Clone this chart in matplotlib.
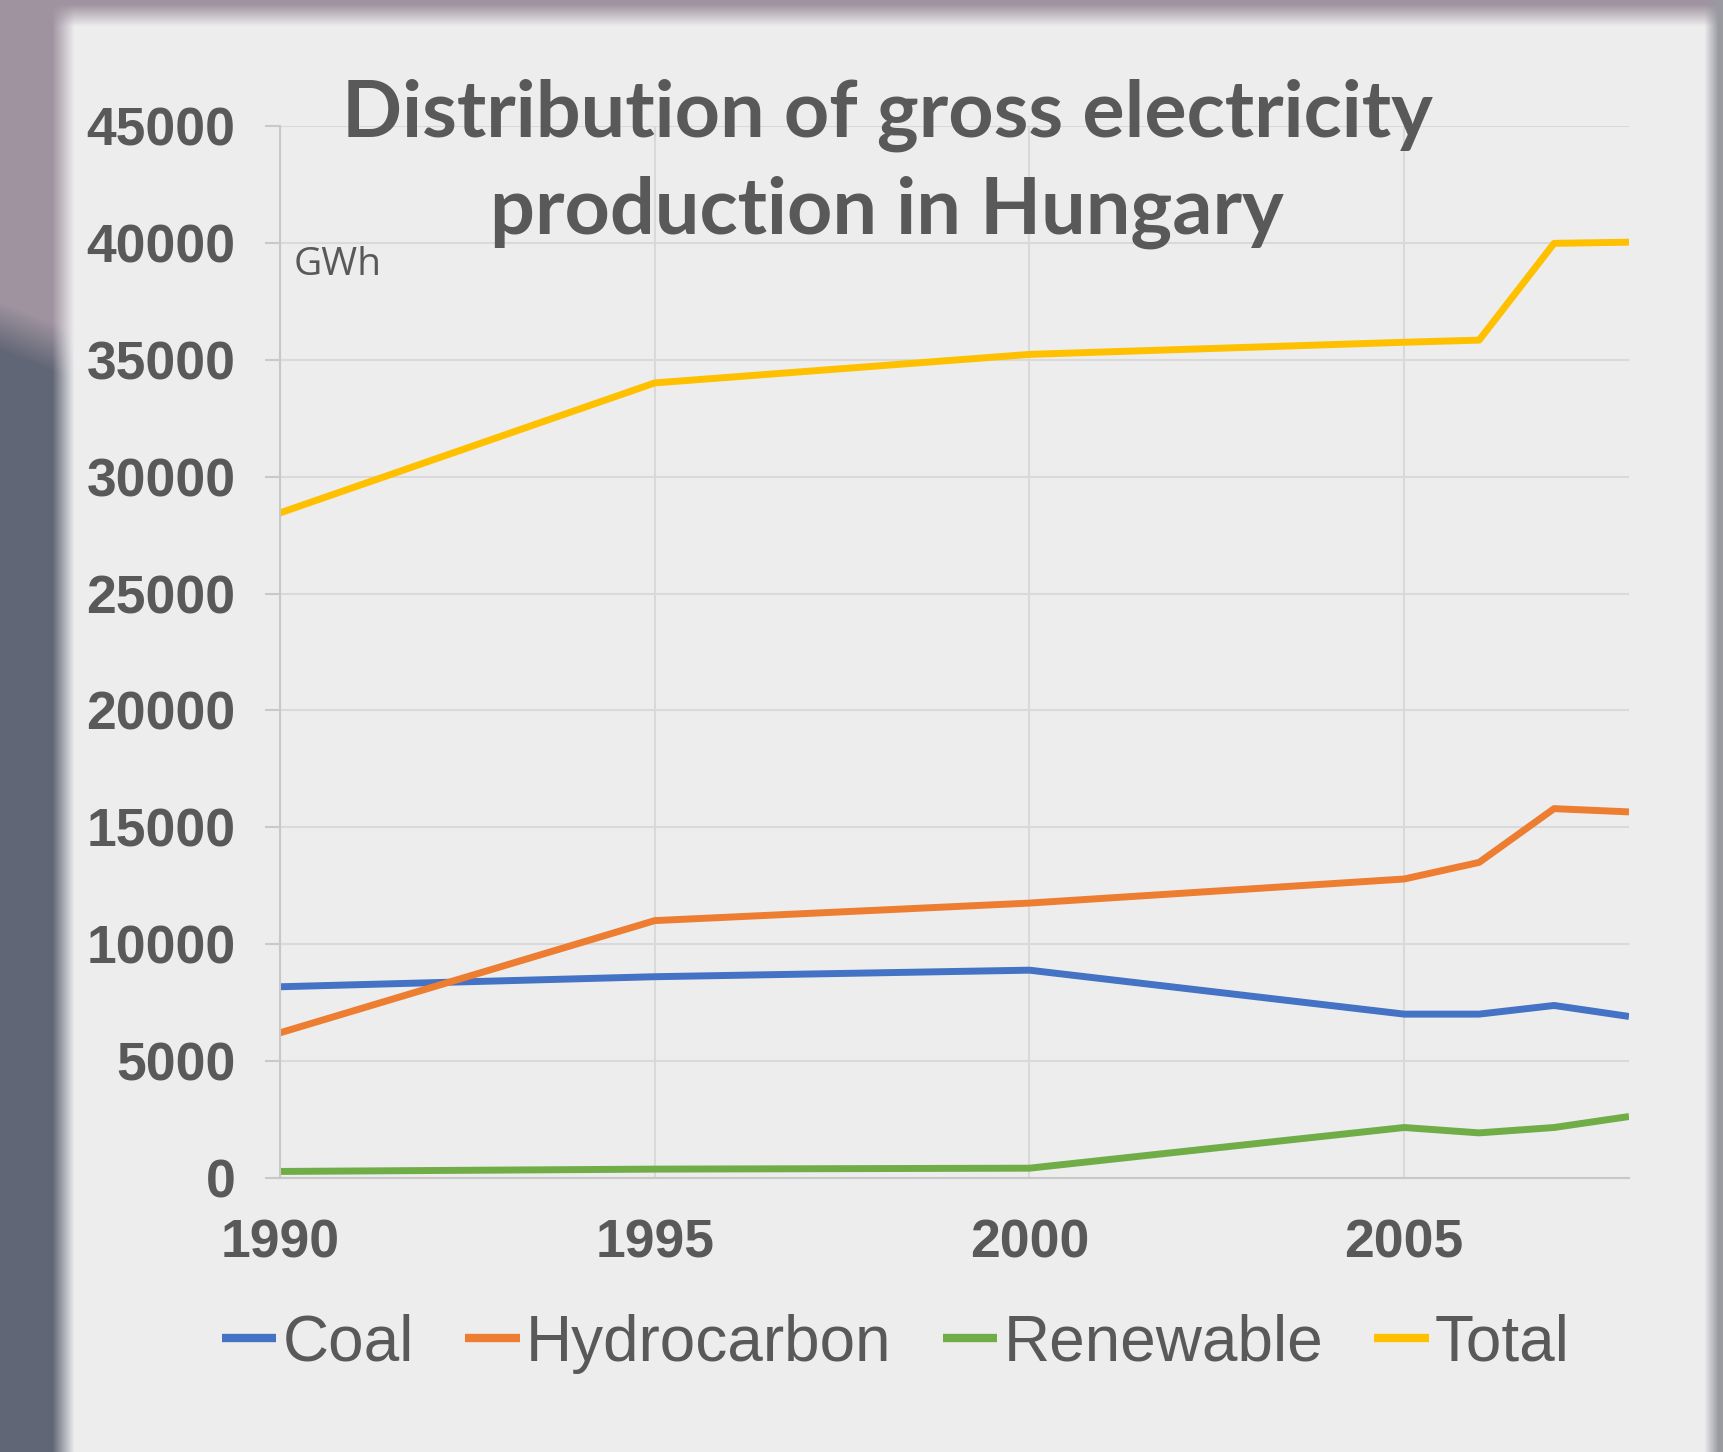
import numpy as np
import matplotlib
matplotlib.use("Agg")
from matplotlib import pyplot as plt

years = [1990, 1995, 2000, 2005, 2006, 2007, 2008]
coal = [8180, 8610, 8890, 7010, 7010, 7380, 6910]
hydrocarbon = [6210, 11010, 11760, 12790, 13500, 15800, 15660]
renewable = [280, 380, 420, 2160, 1930, 2160, 2630]
total = [28450, 34010, 35230, 35750, 35840, 39980, 40030]

series = [("Coal", coal, "#4472C4"),
          ("Hydrocarbon", hydrocarbon, "#ED7D31"),
          ("Renewable", renewable, "#70AD47"),
          ("Total", total, "#FFC000")]

x_ticks = [1990, 1995, 2000, 2005]
y_ticks = list(range(0, 45001, 5000))

text_col = "#595959"
W, H = 1723, 1452

# blurred photo frame behind the slide panel
xx = np.arange(W)[None, :]
yy = np.arange(H)[:, None]
bg = np.ones((H, W, 3)) * np.array([0.93, 0.93, 0.935])
left = np.clip((74 - xx) / 22.0, 0, 1)
top = np.clip((26 - yy) / 22.0, 0, 1)
right = np.clip((xx - 1704) / 14.0, 0, 1)
upper = np.clip((yy - 300 - 0.4 * xx) / 50.0, 0, 1)
dark = np.array([0.38, 0.40, 0.46])
pink = np.array([0.63, 0.58, 0.63])
leftcol = upper[..., None] * dark + (1 - upper[..., None]) * pink
bg = bg * (1 - left[..., None]) + leftcol * left[..., None]
bg = bg * (1 - top[..., None]) + pink * top[..., None]
bg = bg * (1 - right[..., None]) + np.array([0.60, 0.60, 0.63]) * right[..., None]

fig = plt.figure(figsize=(W / 100, H / 100), dpi=100)
bax = fig.add_axes([0, 0, 1, 1], zorder=-1)
bax.imshow(bg, aspect="auto")
bax.axis("off")

ax = fig.add_axes([280 / W, 1 - 1178 / H, 1349 / W, 1052 / H])
ax.set_facecolor("none")
for name, vals, col in series:
    ax.plot(years, vals, color=col, lw=5, label=name, solid_capstyle="butt")

ax.set_xlim(1990, 2008)
ax.set_ylim(0, 45000)
ax.set_xticks(x_ticks)
ax.set_yticks(y_ticks)
ax.grid(True, color="#d9d9d9", lw=1.5)
ax.set_axisbelow(True)
for s in ["top", "right"]:
    ax.spines[s].set_visible(False)
for s in ["left", "bottom"]:
    ax.spines[s].set_color("#c8c8c8")
    ax.spines[s].set_linewidth(1.5)
ax.tick_params(axis="y", length=11, width=1.5, color="#c8c8c8", pad=21,
               labelsize=38.5, labelcolor=text_col)
ax.tick_params(axis="x", length=0, pad=29, labelsize=38.5, labelcolor=text_col)
for lab in ax.get_xticklabels() + ax.get_yticklabels():
    lab.set_fontweight("bold")
    lab.set_family("Liberation Sans")

ax.text(0.01, 0.868, "GWh", transform=ax.transAxes, fontsize=28,
        color=text_col, family="Open Sans", va="center")

fig.text(0.515, 0.887, "Distribution of gross electricity\nproduction in Hungary",
         ha="center", va="center", fontsize=57, fontweight="bold",
         family="Lato", color=text_col, linespacing=1.41)

leg = ax.legend(loc="center", bbox_to_anchor=(0.52, 0.0747),
                bbox_transform=fig.transFigure, ncol=4, frameon=False,
                prop={"family": "Liberation Sans", "size": 46},
                handlelength=0.85, handletextpad=0.1, columnspacing=0.8)
for t in leg.get_texts():
    t.set_color(text_col)
for h in leg.get_lines():
    h.set_linewidth(6)

fig.savefig("out.png", dpi=100)
